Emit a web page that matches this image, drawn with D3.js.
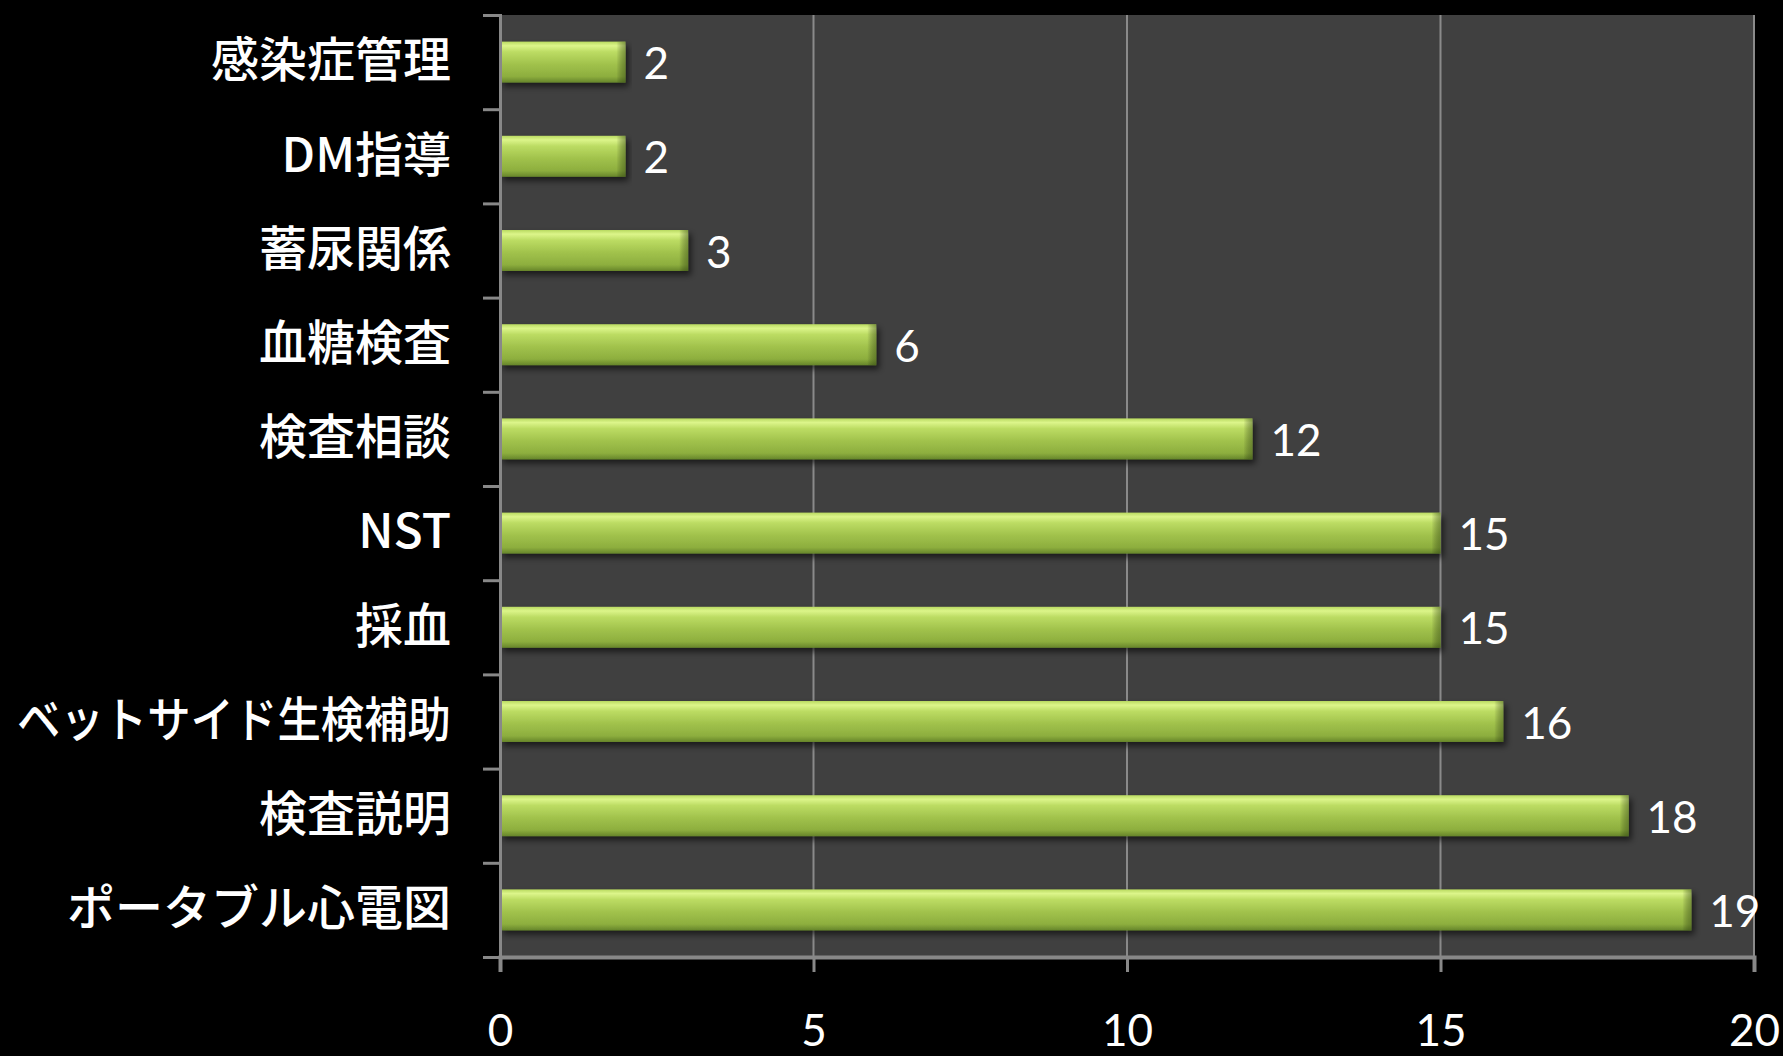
<!DOCTYPE html>
<html lang="ja">
<head>
    <meta charset="UTF-8">
    <title>業務件数</title>
    <script src="https://cdnjs.cloudflare.com/ajax/libs/d3/7.8.5/d3.min.js"></script>
    <style>
        html, body { margin: 0; padding: 0; background: #000; }
        svg { display: block; }
        .cat text { font-family: "Noto Sans CJK JP", sans-serif; font-weight: 500; fill: #fff; }
        .xaxis text, .val { font-family: Lato, "Open Sans", sans-serif; fill: #fff; }
    </style>
</head>
<body>
    <div id="chart"></div>
    <script>
        // data, top to bottom
        var categories = ['感染症管理', 'DM指導', '蓄尿関係', '血糖検査', '検査相談',
                          'NST', '採血', 'ベットサイド生検補助', '検査説明', 'ポータブル心電図'];
        var counts = [2, 2, 3, 6, 12, 15, 15, 16, 18, 19];
        var xTicks = [0, 5, 10, 15, 20];

        // note: "top" is taken by window.top, so use other names
        var w = 1783,
            h = 1056,
            plotL = 500, plotR = 1754,
            plotT = 15, plotB = 957,
            maxLabel = 434;

        var data = categories.map((c, i) => ({ name: c, value: counts[i] }));

        var svg = d3.select('#chart').append('svg')
            .attr('width', w)
            .attr('height', h);

        var defs = svg.append('defs');
        var grad = defs.append('linearGradient')
            .attr('id', 'barGrad')
            .attr('x1', 0).attr('y1', 0).attr('x2', 0).attr('y2', 1);
        [[0, '#b9da60'], [0.1, '#dcf58a'], [0.25, '#bcdc63'], [0.55, '#a1c24c'],
         [0.85, '#8dae3e'], [1, '#66852a']].forEach(s => {
            grad.append('stop').attr('offset', s[0]).attr('stop-color', s[1]);
        });
        var endGrad = defs.append('linearGradient')
            .attr('id', 'endGrad')
            .attr('x1', 0).attr('y1', 0).attr('x2', 1).attr('y2', 0);
        endGrad.append('stop').attr('offset', 0).attr('stop-color', '#000').attr('stop-opacity', 0);
        endGrad.append('stop').attr('offset', 1).attr('stop-color', '#2f4410').attr('stop-opacity', 0.45);
        defs.append('filter').attr('id', 'shadow')
            .attr('x', -0.05).attr('y', -0.3).attr('width', 1.1).attr('height', 1.8)
            .append('feDropShadow')
            .attr('dx', 3).attr('dy', 4).attr('stdDeviation', 3)
            .attr('flood-color', '#000').attr('flood-opacity', 0.6);

        var x = d3.scaleLinear().domain([0, 20]).range([plotL, plotR]);
        var y = d3.scaleBand()
            .domain(categories)
            .range([plotT, plotB])
            .paddingInner(0.565)
            .paddingOuter(0.2825);
        var slots = d3.scaleLinear().domain([0, categories.length]).range([plotT, plotB]);

        // plot background
        svg.append('rect')
            .attr('x', plotL).attr('y', plotT)
            .attr('width', plotR - plotL).attr('height', plotB - plotT)
            .attr('fill', '#404040');

        // gridlines
        svg.append('g')
            .selectAll('line')
            .data(xTicks.slice(1))
            .enter()
            .append('line')
            .attr('x1', d => x(d)).attr('x2', d => x(d))
            .attr('y1', plotT).attr('y2', plotB)
            .attr('stroke', '#8a8a8a')
            .attr('stroke-width', 2);

        // bars
        var bars = svg.append('g').selectAll('g.bar')
            .data(data)
            .enter()
            .append('g')
            .attr('class', 'bar');
        bars.append('rect')
            .attr('x', x(0))
            .attr('y', d => y(d.name))
            .attr('width', d => x(d.value) - x(0))
            .attr('height', y.bandwidth())
            .attr('fill', 'url(#barGrad)')
            .attr('filter', 'url(#shadow)');
        bars.append('rect')
            .attr('x', d => x(d.value) - 9)
            .attr('y', d => y(d.name))
            .attr('width', 9)
            .attr('height', y.bandwidth())
            .attr('fill', 'url(#endGrad)');

        // value labels
        bars.append('text')
            .attr('class', 'val')
            .attr('x', d => x(d.value) + 18)
            .attr('y', d => y(d.name) + y.bandwidth() / 2 + 6)
            .attr('dominant-baseline', 'middle')
            .style('font-size', '44px')
            .text(d => d.value);

        // y axis: boundary ticks
        svg.append('g')
            .attr('transform', 'translate(' + plotL + ',0)')
            .call(d3.axisLeft(slots).tickValues(d3.range(0, categories.length + 1)).tickSize(17).tickFormat(''))
            .call(g => g.selectAll('line').attr('stroke', '#888').attr('stroke-width', 3))
            .call(g => g.select('.domain').attr('stroke', '#888').attr('stroke-width', 3));

        // category labels
        svg.append('g')
            .attr('class', 'cat')
            .attr('transform', 'translate(' + plotL + ',0)')
            .call(d3.axisLeft(y).tickSize(0).tickPadding(49))
            .call(g => g.select('.domain').remove())
            .selectAll('text')
            .attr('fill', '#fff')
            .style('font-size', '48px')
            .each(function () {
                // squeeze the long katakana label so it fits the left margin
                if (this.getComputedTextLength() > maxLabel) {
                    d3.select(this).attr('textLength', maxLabel).attr('lengthAdjust', 'spacingAndGlyphs');
                }
            });

        // x axis
        svg.append('g')
            .attr('class', 'xaxis')
            .attr('transform', 'translate(0,' + plotB + ')')
            .call(d3.axisBottom(x).tickValues(xTicks).tickSize(15).tickPadding(43))
            .call(g => g.selectAll('line').attr('stroke', '#888').attr('stroke-width', 3))
            .call(g => g.select('.domain').attr('stroke', '#888').attr('stroke-width', 4))
            .selectAll('text')
            .attr('fill', '#fff')
            .style('font-size', '44px');
    </script>
</body>
</html>
